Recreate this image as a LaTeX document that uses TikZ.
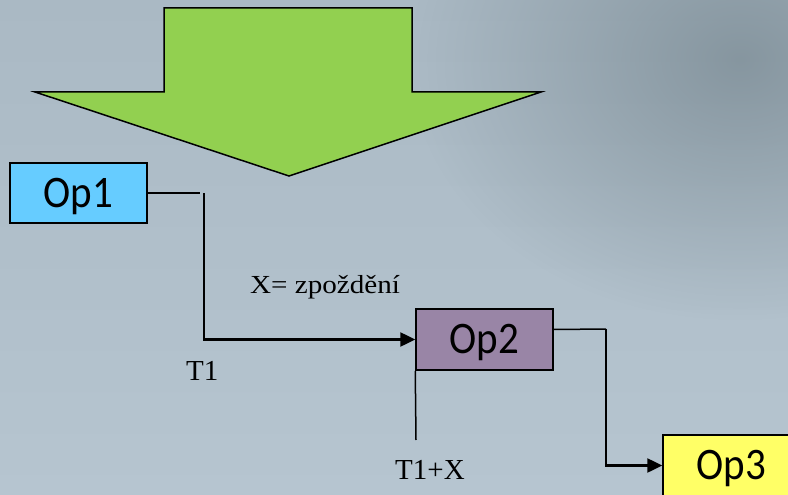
\documentclass[tikz,border=0pt]{standalone}
\usepackage{fontspec}
\setmainfont{Liberation Serif}
\newfontfamily\opfont{Carlito}
\usetikzlibrary{arrows.meta,fadings}
\tikzfading[name=darkfade, inner color=transparent!25, outer color=transparent!100]
\definecolor{bgtop}{HTML}{AAB9C4}
\definecolor{bgbot}{HTML}{B6C5D0}
\definecolor{bgdark}{HTML}{7A8A93}
\definecolor{arrowgreen}{HTML}{92D050}
\definecolor{opblue}{HTML}{66CCFF}
\definecolor{oppurple}{HTML}{9985A6}
\definecolor{opyellow}{HTML}{FFFF66}
\begin{document}
\begin{tikzpicture}[x=1pt,y=-1pt,
  opbox/.style={draw=black, line width=1.5pt, minimum width=137pt, minimum height=60pt,
    inner sep=0pt, text height=28pt, text depth=0pt, font=\opfont\fontsize{41}{41}\selectfont},
  conn/.style={draw=black, line width=1.5pt},
  arrowconn/.style={draw=black, line width=2.5pt, -{Triangle[length=15pt,width=14pt]}},
  lbl/.style={inner sep=0pt, anchor=base west, font=\fontsize{29}{29}\selectfont}]
\useasboundingbox (0,0) rectangle (788,495);
\clip (0,0) rectangle (788,495);
% background
\shade[top color=bgtop, bottom color=bgbot] (0,0) rectangle (788,495);
\fill[bgdark, path fading=darkfade] (740,60) ellipse (330 and 260);
% big green arrow
\draw[fill=arrowgreen, line width=1.5pt] (164,8) -- (412,8) -- (412,92) -- (541,92)
  -- (289,176) -- (35,92) -- (164,92) -- cycle;
% operation boxes
\node[opbox, fill=opblue] (op1) at (78.5,193) {\scalebox{1}[1.1]{Op1}};
\node[opbox, fill=oppurple, minimum height=61pt] (op2) at (484.5,339.5) {\scalebox{1}[1.1]{Op2}};
\node[opbox, fill=opyellow, minimum height=61pt] (op3) at (731.5,465.5) {\scalebox{1}[1.1]{Op3}};
% connectors
\coordinate (c1) at (200,193);
\coordinate (c2) at (204,193);
\coordinate (c3) at (606,329);
\coordinate (c4) at (416,440);
\draw[conn] (op1.east) -- (c1);
\draw[arrowconn] (c2) |- (op2.west);
\draw[conn] ([yshift=10pt]op2.east) -- (c3);
\draw[arrowconn] (c3) |- (op3.west);
\draw[conn] (op2.south west) -- (c4);
% labels
\node[lbl, font=\fontsize{26}{26}\selectfont] (xlab) at (250,293) {\scalebox{1.12}[1]{X= zpoždění}};
\node[lbl] (t1) at (186,380) {T1};
\node[lbl] (t1x) at (395,479) {T1+X};
\end{tikzpicture}
\end{document}
